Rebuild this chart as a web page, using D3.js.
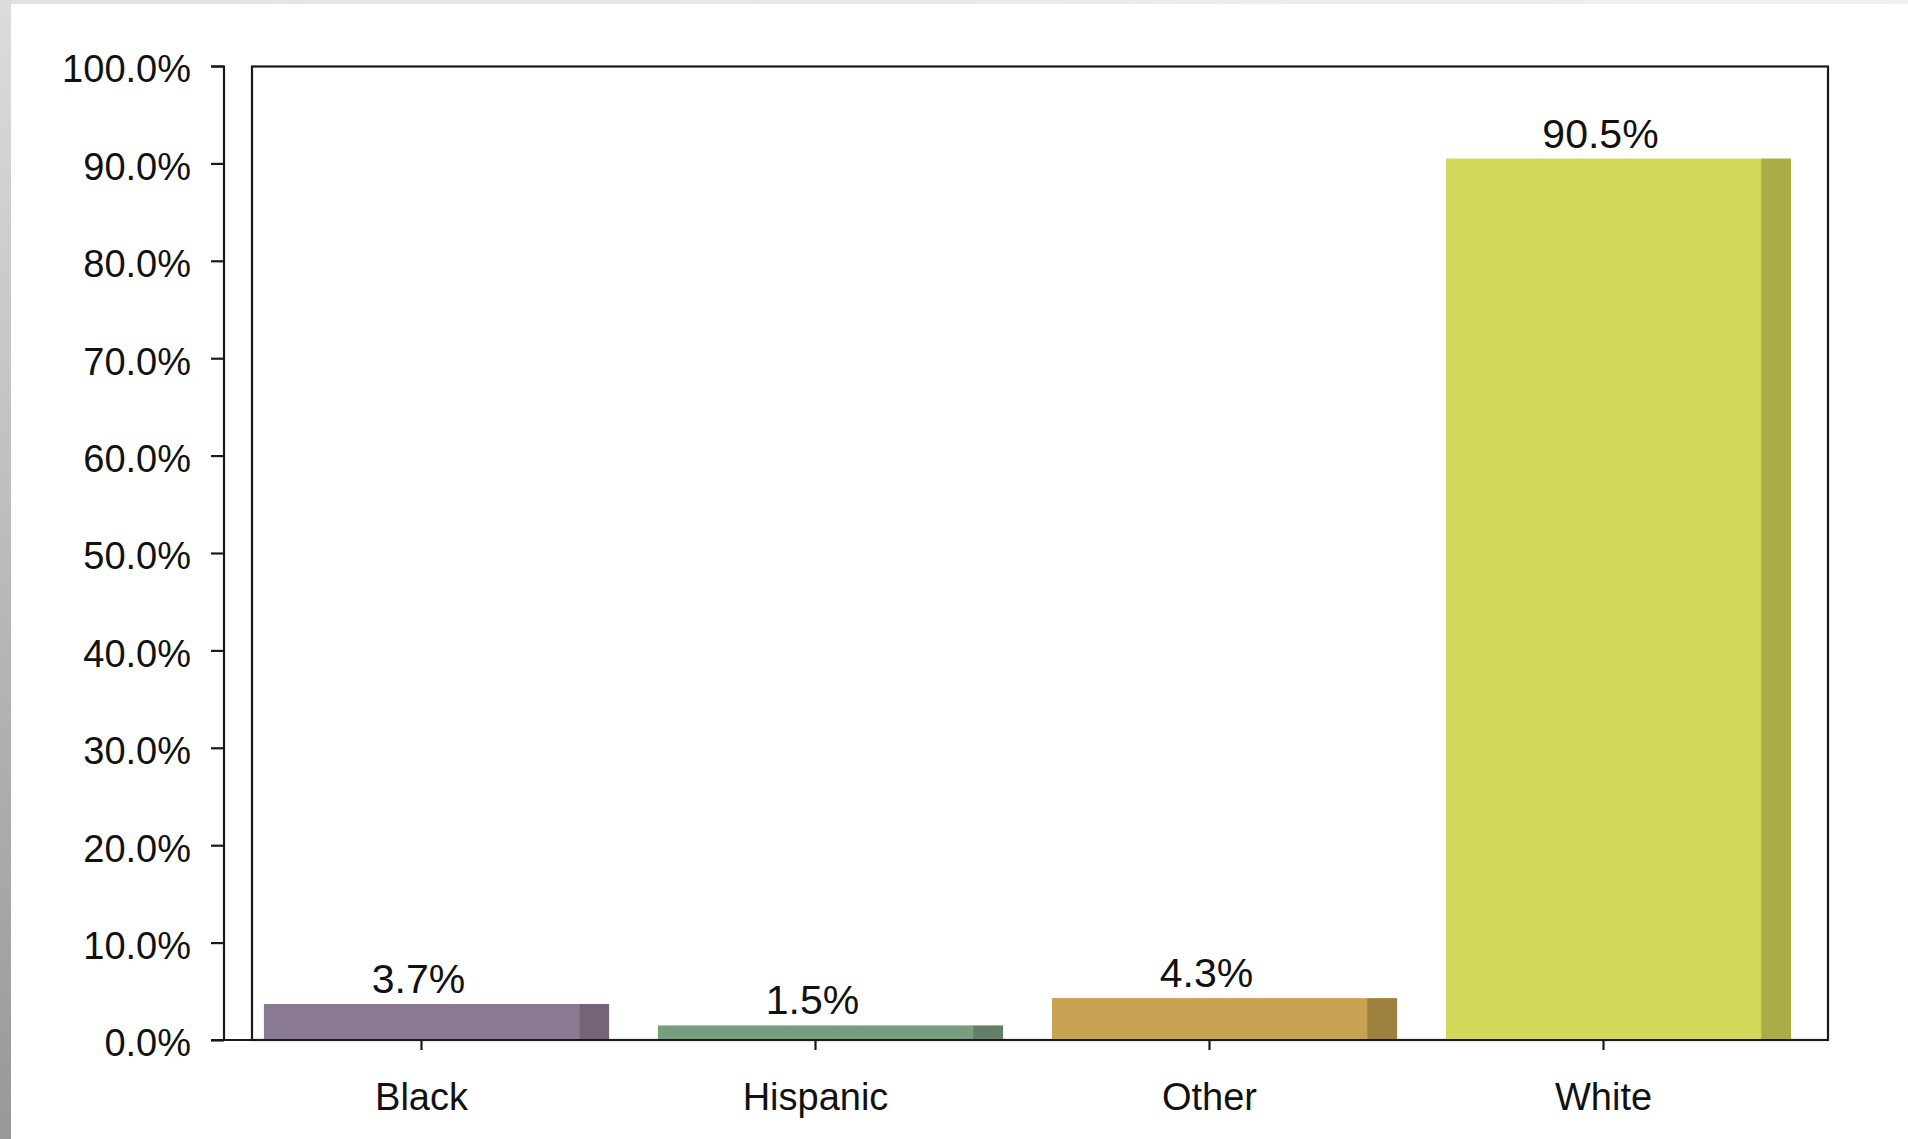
<!DOCTYPE html>
<html>
<head>
<meta charset="utf-8">
<script src="https://cdn.jsdelivr.net/npm/d3@7"></script>
<style>
html,body{margin:0;padding:0;background:#fff;overflow:hidden;}
svg{display:block;font-family:"Liberation Sans",Arial,Helvetica,sans-serif;}
</style>
</head>
<body>
<svg id="chart" width="1908" height="1139"></svg>
<script>
const categories = ["Black", "Hispanic", "Other", "White"];
const values = [3.7, 1.5, 4.3, 90.5];
const valueLabels = ["3.7%", "1.5%", "4.3%", "90.5%"];
const yTicks = [0, 10, 20, 30, 40, 50, 60, 70, 80, 90, 100];
const frontColors = ["#8a7b92", "#799e7e", "#c8a253", "#d3d85b"];
const sideColors = ["#736479", "#637f67", "#9e8040", "#abab47"];

const svg = d3.select("#chart");
const W = 1908, H = 1139;

// background chrome
const defs = svg.append("defs");
const lg = defs.append("linearGradient").attr("id","leftg").attr("x1",0).attr("y1",0).attr("x2",0).attr("y2",1);
lg.append("stop").attr("offset","0%").attr("stop-color","#dcdcdc");
lg.append("stop").attr("offset","100%").attr("stop-color","#989898");
const tg = defs.append("linearGradient").attr("id","topg").attr("x1",0).attr("y1",0).attr("x2",1).attr("y2",0);
tg.append("stop").attr("offset","0%").attr("stop-color","#e2e2e2");
tg.append("stop").attr("offset","100%").attr("stop-color","#f0f0f0");
svg.append("rect").attr("x",0).attr("y",0).attr("width",W).attr("height",H).attr("fill","#fff");
svg.append("rect").attr("x",0).attr("y",0).attr("width",W).attr("height",4).attr("fill","url(#topg)");
svg.append("rect").attr("x",0).attr("y",0).attr("width",11).attr("height",H).attr("fill","url(#leftg)");

const y = d3.scaleLinear().domain([0, 100]).range([1040, 66]);
const x = d3.scaleBand().domain(categories).range([224.5, 1800.5]).paddingInner(0.2).paddingOuter(0.1);
const sideW = 30;

// frame
svg.append("rect").attr("x",252).attr("y",66.5).attr("width",1828-252).attr("height",1040-66.5)
  .attr("fill","none").attr("stroke","#1a1a1a").attr("stroke-width",2.2);

// bars
const g = svg.append("g");
categories.forEach((c, i) => {
  const x0 = x(c), bw = x.bandwidth();
  g.append("rect").attr("x", x0).attr("y", y(values[i])).attr("width", bw).attr("height", y(0) - y(values[i]))
    .attr("fill", frontColors[i]);
  g.append("rect").attr("x", x0 + bw).attr("y", y(values[i])).attr("width", sideW).attr("height", y(0) - y(values[i]))
    .attr("fill", sideColors[i]);
  g.append("text").attr("x", x0 + bw / 2 - 3).attr("y", y(values[i]) - 11)
    .attr("text-anchor", "middle").attr("font-size", 41).attr("fill", "#111").text(valueLabels[i]);
});

// y axis (detached)
const yAxis = d3.axisLeft(y).tickValues(yTicks).tickSize(13).tickPadding(20)
  .tickFormat(d => d3.format(".1f")(d) + "%");
const ya = svg.append("g").attr("transform", "translate(224,0)").call(yAxis);
ya.select(".domain").attr("stroke","#1a1a1a").attr("stroke-width",2.2).attr("d","M-13,66.5H0V1040H-13");
ya.selectAll(".tick line").attr("stroke","#1a1a1a").attr("stroke-width",2.2);
ya.selectAll(".tick text").attr("font-size",38).attr("fill","#111").attr("font-family","'Liberation Sans',Arial,sans-serif").attr("dy","0.42em");

// x axis
const xAxis = d3.axisBottom(x).tickSize(10).tickPadding(33);
const xa = svg.append("g").attr("transform", "translate(0,1040)").call(xAxis);
xa.select(".domain").attr("stroke","#1a1a1a").attr("stroke-width",2.2).attr("d","M211,0H1828");
xa.selectAll(".tick line").attr("stroke","#1a1a1a").attr("stroke-width",2.2);
xa.selectAll(".tick text").attr("font-size",38).attr("fill","#111").attr("font-family","'Liberation Sans',Arial,sans-serif");
</script>
</body>
</html>
